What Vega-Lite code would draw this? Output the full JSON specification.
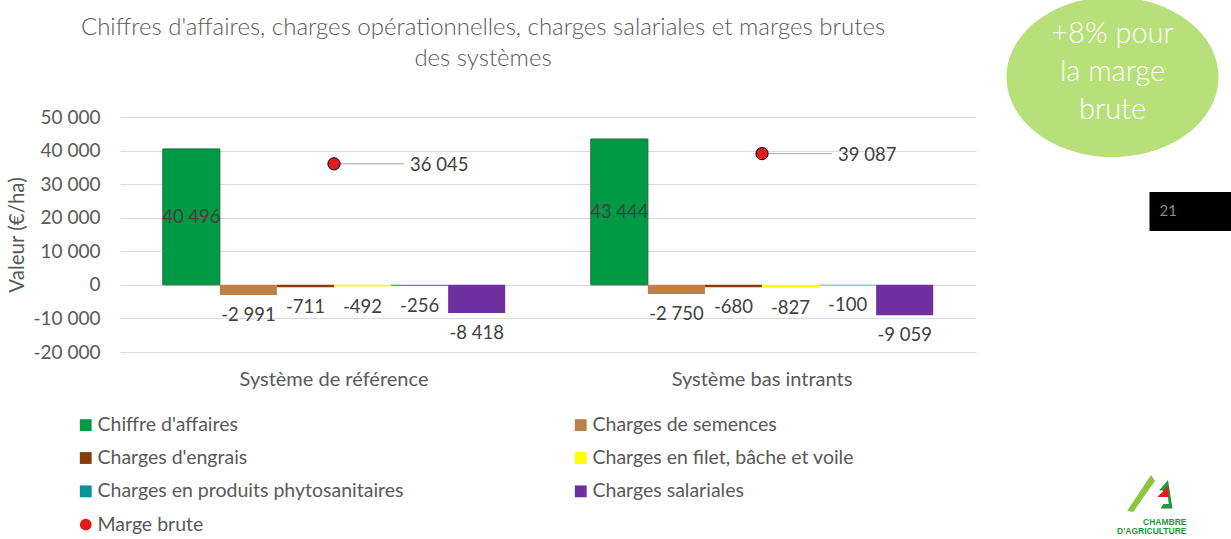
{
  "$schema": "https://vega.github.io/schema/vega-lite/v6.json",
  "autosize": "none",
  "width": 856,
  "height": 235,
  "padding": {"left": 120, "top": 117, "right": 255, "bottom": 187},
  "background": "white",
  "title": {
    "text": ["Chiffres d'affaires, charges opérationnelles, charges salariales et marges brutes", "des systèmes"],
    "anchor": "middle",
    "frame": "group",
    "dx": -65,
    "offset": 40,
    "dy": 114,
    "fontSize": 24,
    "fontWeight": 300,
    "color": "#595959",
    "lineHeight": 31
  },
  "data": {
    "values": [
      {"systeme": "Système de référence", "serie": "Chiffre d'affaires", "valeur": 40496},
      {"systeme": "Système de référence", "serie": "Charges de semences", "valeur": -2991},
      {"systeme": "Système de référence", "serie": "Charges d'engrais", "valeur": -711},
      {"systeme": "Système de référence", "serie": "Charges en filet, bâche et voile", "valeur": -492},
      {"systeme": "Système de référence", "serie": "Charges en produits phytosanitaires", "valeur": -256},
      {"systeme": "Système de référence", "serie": "Charges salariales", "valeur": -8418},
      {"systeme": "Système de référence", "serie": "Marge brute", "valeur": 36045},
      {"systeme": "Système bas intrants", "serie": "Chiffre d'affaires", "valeur": 43444},
      {"systeme": "Système bas intrants", "serie": "Charges de semences", "valeur": -2750},
      {"systeme": "Système bas intrants", "serie": "Charges d'engrais", "valeur": -680},
      {"systeme": "Système bas intrants", "serie": "Charges en filet, bâche et voile", "valeur": -827},
      {"systeme": "Système bas intrants", "serie": "Charges en produits phytosanitaires", "valeur": -100},
      {"systeme": "Système bas intrants", "serie": "Charges salariales", "valeur": -9059},
      {"systeme": "Système bas intrants", "serie": "Marge brute", "valeur": 39087}
    ]
  },
  "encoding": {
    "x": {
      "field": "systeme",
      "type": "nominal",
      "sort": ["Système de référence", "Système bas intrants"],
      "scale": {"paddingInner": 0.2, "paddingOuter": 0.1},
      "axis": {
        "title": null,
        "domain": false,
        "ticks": false,
        "labelAngle": 0,
        "labelFontSize": 20,
        "labelColor": "#595959",
        "labelPadding": 17,
        "labelLimit": 400,
        "grid": false
      }
    },
    "y": {
      "field": "valeur",
      "type": "quantitative",
      "scale": {"domain": [-20000, 50000], "nice": false, "zero": false},
      "axis": {
        "title": "Valeur (€/ha)",
        "titleFontSize": 20.5,
        "titleFontWeight": "normal",
        "titleColor": "#595959",
        "titlePadding": 5,
        "values": [-20000, -10000, 0, 10000, 20000, 30000, 40000, 50000],
        "format": ",.0f",
        "domain": false,
        "ticks": false,
        "labelFontSize": 19,
        "labelColor": "#595959",
        "labelPadding": 20,
        "gridColor": "#D9D9D9",
        "gridWidth": 1
      }
    }
  },
  "layer": [
    {
      "transform": [{"filter": "datum.serie !== 'Marge brute'"}],
      "mark": {"type": "bar", "strokeWidth": 1},
      "encoding": {
        "xOffset": {
          "field": "serie",
          "type": "nominal",
          "sort": ["Chiffre d'affaires", "Charges de semences", "Charges d'engrais", "Charges en filet, bâche et voile", "Charges en produits phytosanitaires", "Charges salariales"],
          "scale": {"paddingInner": 0, "paddingOuter": 0}
        },
        "color": {
          "field": "serie",
          "type": "nominal",
          "scale": {
            "domain": ["Chiffre d'affaires", "Charges d'engrais", "Charges en produits phytosanitaires", "Marge brute", "Charges de semences", "Charges en filet, bâche et voile", "Charges salariales"],
            "range": ["#009A44", "#843C0C", "#00939B", "#E31A1C", "#BA8249", "#FFFF00", "#7030A0"]
          },
          "legend": {
            "title": null,
            "encode": {
              "symbols": {
                "update": {
                  "stroke": {"signal": "datum.label === 'Marge brute' ? '#000000' : (datum.label === \"Chiffre d'affaires\" ? '#1E6B34' : 'transparent')"},
                  "strokeWidth": {"value": 1}
                }
              }
            }
          }
        },
        "stroke": {
          "condition": {"test": "datum.serie === \"Chiffre d'affaires\"", "value": "#1E6B34"},
          "value": null
        }
      }
    },
    {
      "transform": [
        {"filter": "datum.serie !== 'Marge brute' && datum.valeur > 0"},
        {"calculate": "datum.valeur / 2", "as": "milieu"}
      ],
      "mark": {"type": "text", "fontSize": 18.5, "color": "#404040", "baseline": "middle"},
      "encoding": {
        "xOffset": {"field": "serie", "type": "nominal", "sort": ["Chiffre d'affaires", "Charges de semences", "Charges d'engrais", "Charges en filet, bâche et voile", "Charges en produits phytosanitaires", "Charges salariales"]},
        "y": {"field": "milieu", "type": "quantitative"},
        "text": {"field": "valeur", "type": "quantitative", "format": ",.0f"}
      }
    },
    {
      "transform": [{"filter": "datum.serie !== 'Marge brute' && datum.valeur < 0"}],
      "mark": {"type": "text", "fontSize": 18.5, "color": "#404040", "baseline": "middle", "dy": 20},
      "encoding": {
        "xOffset": {"field": "serie", "type": "nominal", "sort": ["Chiffre d'affaires", "Charges de semences", "Charges d'engrais", "Charges en filet, bâche et voile", "Charges en produits phytosanitaires", "Charges salariales"]},
        "text": {"field": "valeur", "type": "quantitative", "format": ",.0f"}
      }
    },
    {
      "transform": [{"filter": "datum.serie === 'Marge brute'"}],
      "mark": {"type": "rule", "color": "#A6A6A6", "strokeWidth": 1, "x2Offset": 70},
      "encoding": {
        "x2": {"field": "systeme"}
      }
    },
    {
      "transform": [{"filter": "datum.serie === 'Marge brute'"}],
      "mark": {"type": "point", "filled": true, "size": 150, "stroke": "#000000", "strokeWidth": 1, "opacity": 1},
      "encoding": {
        "color": {"field": "serie", "type": "nominal", "legend": {"title": null}},
        "shape": {
          "field": "serie",
          "type": "nominal",
          "scale": {
            "domain": ["Chiffre d'affaires", "Charges d'engrais", "Charges en produits phytosanitaires", "Marge brute", "Charges de semences", "Charges en filet, bâche et voile", "Charges salariales"],
            "range": ["square", "square", "square", "circle", "square", "square", "square"]
          },
          "legend": {"title": null}
        }
      }
    },
    {
      "transform": [{"filter": "datum.serie === 'Marge brute'"}],
      "mark": {"type": "text", "fontSize": 18.5, "color": "#404040", "align": "left", "baseline": "middle", "dx": 76, "dy": 1},
      "encoding": {
        "text": {"field": "valeur", "type": "quantitative", "format": ",.0f"}
      }
    },
    {
      "data": {"values": [{"note": "+8% pour la marge brute"}]},
      "transform": [{"calculate": "61915", "as": "pos"}],
      "mark": {"type": "point", "filled": true, "opacity": 1, "color": "#B8E07A", "size": 44944, "xOffset": 350.5,
        "shape": "M -1 0 A 1 0.755 0 1 0 1 0 A 1 0.755 0 1 0 -1 0 Z"},
      "encoding": {
        "x": {"datum": "Système bas intrants"},
        "y": {"field": "pos", "type": "quantitative"}
      }
    },
    {
      "data": {"values": [{"note": "+8% pour la marge brute"}]},
      "transform": [{"calculate": "74740", "as": "pos"}],
      "mark": {"type": "text", "text": ["+8% pour", "la marge", "brute"], "fontSize": 29, "fontWeight": 300, "color": "#FFFFFF",
        "align": "center", "baseline": "middle", "lineHeight": 38, "xOffset": 350.5},
      "encoding": {
        "x": {"datum": "Système bas intrants"},
        "y": {"field": "pos", "type": "quantitative"}
      }
    },
    {
      "data": {"values": [{"page": "21"}]},
      "transform": [{"calculate": "27674", "as": "pos"}, {"calculate": "16056", "as": "pos2"}],
      "mark": {"type": "rect", "color": "#000000", "xOffset": 387.5, "x2Offset": 470},
      "encoding": {
        "x": {"datum": "Système bas intrants"},
        "x2": {"datum": "Système bas intrants"},
        "y": {"field": "pos", "type": "quantitative"},
        "y2": {"field": "pos2"}
      }
    },
    {
      "data": {"values": [{"page": "21"}]},
      "transform": [{"calculate": "22014", "as": "pos"}],
      "mark": {"type": "text", "fontSize": 15, "color": "#8C8C8C", "align": "left", "baseline": "middle", "xOffset": 397.5},
      "encoding": {
        "x": {"datum": "Système bas intrants"},
        "y": {"field": "pos", "type": "quantitative"},
        "text": {"field": "page"}
      }
    },
    {
      "data": {"values": [{"logo": "CHAMBRE"}]},
      "transform": [{"calculate": "-62000", "as": "pos"}],
      "mark": {"type": "point", "filled": true, "opacity": 1, "color": "#8CC63F", "size": 1600, "xOffset": 383,
        "shape": "M -0.9 0.9 L 0.3 -0.9 L 0.5 -0.6 L -0.6 0.95 Z"},
      "encoding": {
        "x": {"datum": "Système bas intrants"},
        "y": {"field": "pos", "type": "quantitative"}
      }
    },
    {
      "data": {"values": [{"logo": "CHAMBRE"}]},
      "transform": [{"calculate": "-62600", "as": "pos"}],
      "mark": {"type": "point", "filled": true, "opacity": 1, "color": "#1E9A3C", "size": 900, "xOffset": 400,
        "shape": "M -0.2 -0.3 L 0.4 -1 L 0.7 0.9 L -0.1 0.9 L 0.1 0.6 L 0.45 0.6 L 0.35 -0.2 L 0.0 -0.3 Z"},
      "encoding": {
        "x": {"datum": "Système bas intrants"},
        "y": {"field": "pos", "type": "quantitative"}
      }
    },
    {
      "data": {"values": [{"logo": "CHAMBRE"}]},
      "transform": [{"calculate": "-61500", "as": "pos"}],
      "mark": {"type": "point", "filled": true, "opacity": 1, "color": "#E31A1C", "size": 200, "xOffset": 401,
        "shape": "M -0.8 0.8 L 0.8 -0.8 L 0.8 0.8 Z"},
      "encoding": {
        "x": {"datum": "Système bas intrants"},
        "y": {"field": "pos", "type": "quantitative"}
      }
    },
    {
      "data": {"values": [{"logo": "CHAMBRE"}, {"logo": "D'AGRICULTURE"}]},
      "transform": [{"calculate": "datum.logo === 'CHAMBRE' ? -70628 : -73309", "as": "pos"}],
      "mark": {"type": "text", "fontSize": 8.5, "fontWeight": "bold", "color": "#1E9A3C", "align": "right", "baseline": "middle", "xOffset": 424.5, "font": "Liberation Sans"},
      "encoding": {
        "x": {"datum": "Système bas intrants"},
        "y": {"field": "pos", "type": "quantitative"},
        "text": {"field": "logo"}
      }
    }
  ],
  "config": {
    "font": "Lato",
    "view": {"stroke": null},
    "locale": {"number": {"decimal": ",", "thousands": " ", "grouping": [3], "currency": ["", " €"], "minus": "-"}},
    "legend": {
      "orient": "none",
      "legendX": -44,
      "legendY": 298,
      "columns": 2,
      "padding": 0,
      "labelFontSize": 19.5,
      "labelColor": "#595959",
      "symbolSize": 140,
      "rowPadding": 12.3,
      "columnPadding": 167,
      "labelOffset": 2,
      "labelLimit": 400
    }
  }
}
